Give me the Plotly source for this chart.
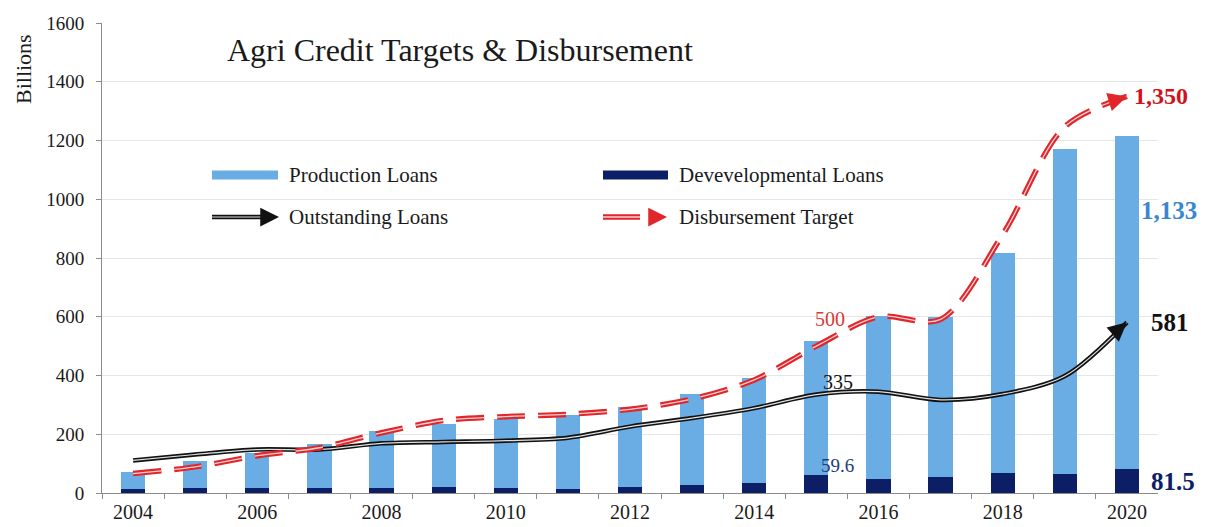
import plotly.graph_objects as go

# ---- data (billions) ----
years = list(range(2004, 2021))
production_loans = [56, 92, 119, 152, 194, 215, 233, 251, 273, 309, 358, 458, 553, 547, 749, 1109, 1133]
developmental_loans = [15, 16, 18, 16, 17, 19, 18, 14, 20, 28, 34, 59.6, 49, 53, 68, 63, 81.5]
outstanding_loans = [111, 131, 148, 148, 169, 174, 178, 188, 226, 255, 289, 335, 345, 317, 337, 398, 581]
disbursement_target = [66, 89, 127, 154, 205, 247, 260, 268, 285, 320, 385, 500, 600, 591, 880, 1247, 1350]
x_tick_years = [2004, 2006, 2008, 2010, 2012, 2014, 2016, 2018, 2020]
y_ticks = [0, 200, 400, 600, 800, 1000, 1200, 1400, 1600]

# ---- styling ----
FONT = "Liberation Serif"
LIGHT_BLUE = "#6AADE4"
NAVY = "#0B1E66"
RED = "#E0262B"
BLACK = "#111111"
W, H = 1212, 527
M_L, M_R, M_T, M_B = 102, 54, 23, 34
PLOT_W = W - M_L - M_R
PLOT_H = H - M_T - M_B


def px(x):
    return (x - M_L) / PLOT_W


def py(y):
    return (H - M_B - y) / PLOT_H


fig = go.Figure()

# stacked bars: developmental at the base, production on top
fig.add_trace(go.Bar(x=years, y=developmental_loans, width=0.39,
                     marker=dict(color=NAVY, line=dict(width=0)), name="Devevelopmental Loans"))
fig.add_trace(go.Bar(x=years, y=production_loans, width=0.39,
                     marker=dict(color=LIGHT_BLUE, line=dict(width=0)), name="Production Loans"))

# outstanding loans: double (outlined) smoothed line
fig.add_trace(go.Scatter(x=years, y=outstanding_loans, mode="lines",
                         line=dict(color=BLACK, width=4.5, shape="spline", smoothing=0.9)))
fig.add_trace(go.Scatter(x=years, y=outstanding_loans, mode="lines",
                         line=dict(color="#e0e0e0", width=1.2, shape="spline", smoothing=0.9)))

# disbursement target: dashed double smoothed line
DASH = "28px,13px"
fig.add_trace(go.Scatter(x=years, y=disbursement_target, mode="lines",
                         line=dict(color=RED, width=5.5, dash=DASH, shape="spline", smoothing=0.9)))
fig.add_trace(go.Scatter(x=years, y=disbursement_target, mode="lines",
                         line=dict(color="#f6d0d0", width=1.3, dash=DASH, shape="spline", smoothing=0.9)))

annotations = []

# arrowheads at the end of both lines
annotations.append(dict(x=years[-1], y=outstanding_loans[-1], xref="x", yref="y", text="",
                        showarrow=True, ax=-14, ay=12, arrowhead=2, arrowsize=1.5,
                        arrowwidth=2.5, arrowcolor=BLACK, standoff=0))
annotations.append(dict(x=years[-1], y=disbursement_target[-1], xref="x", yref="y", text="",
                        showarrow=True, ax=-16, ay=5, arrowhead=2, arrowsize=1.5,
                        arrowwidth=2.5, arrowcolor=RED, standoff=0))

# end-of-series value labels
annotations.append(dict(x=years[-1], y=disbursement_target[-1], xref="x", yref="y",
                        text=f"<b>{disbursement_target[-1]:,}</b>", showarrow=False,
                        xanchor="left", yanchor="middle", xshift=5,
                        font=dict(family=FONT, size=24, color="#D0121B")))
annotations.append(dict(x=years[-1], y=outstanding_loans[-1], xref="x", yref="y",
                        text=f"<b>{outstanding_loans[-1]}</b>", showarrow=False,
                        xanchor="left", yanchor="middle", xshift=22,
                        font=dict(family=FONT, size=25, color=BLACK)))
annotations.append(dict(x=years[-1], y=963, xref="x", yref="y",
                        text=f"<b>{production_loans[-1]:,}</b>", showarrow=False,
                        xanchor="left", yanchor="middle", xshift=12,
                        font=dict(family=FONT, size=25, color="#3A87CF")))
annotations.append(dict(x=years[-1], y=developmental_loans[-1] / 2, xref="x", yref="y",
                        text=f"<b>{developmental_loans[-1]}</b>", showarrow=False,
                        xanchor="left", yanchor="middle", xshift=22,
                        font=dict(family=FONT, size=25, color=NAVY)))

# 2015 value labels
i15 = years.index(2015)
annotations.append(dict(x=2015, y=outstanding_loans[i15], xref="x", yref="y",
                        text=f"{outstanding_loans[i15]}", showarrow=False,
                        xanchor="center", yanchor="bottom", xshift=22, yshift=0,
                        font=dict(family=FONT, size=20, color=BLACK)))
annotations.append(dict(x=2015, y=disbursement_target[i15], xref="x", yref="y",
                        text=f"{disbursement_target[i15]}", showarrow=False,
                        xanchor="center", yanchor="bottom", xshift=14, yshift=14,
                        font=dict(family=FONT, size=20, color="#D63A36")))
annotations.append(dict(x=2015, y=developmental_loans[i15], xref="x", yref="y",
                        text=f"{developmental_loans[i15]}", showarrow=False,
                        xanchor="center", yanchor="bottom", xshift=21, yshift=-3,
                        font=dict(family=FONT, size=19, color="#1F3A7A")))

# chart title and axis caption
annotations.append(dict(x=px(460), y=py(50), xref="paper", yref="paper",
                        text="Agri Credit Targets & Disbursement", showarrow=False,
                        xanchor="center", yanchor="middle",
                        font=dict(family=FONT, size=32, color="#1a1a1a")))
annotations.append(dict(x=px(23), y=py(69), xref="paper", yref="paper",
                        text="Billions", textangle=-90, showarrow=False,
                        xanchor="center", yanchor="middle",
                        font=dict(family=FONT, size=22, color="#1a1a1a")))

# legend (drawn in pixel-mapped paper coordinates)
shapes = []
legend_font = dict(family=FONT, size=21, color="#1a1a1a")
row1, row2 = 175, 217
col1_sym, col2_sym = 212, 603
col1_txt, col2_txt = 287, 677

shapes.append(dict(type="rect", xref="paper", yref="paper",
                   x0=px(col1_sym), x1=px(278), y0=py(row1 - 4.5), y1=py(row1 + 4.5),
                   fillcolor=LIGHT_BLUE, line=dict(width=0)))
shapes.append(dict(type="rect", xref="paper", yref="paper",
                   x0=px(col2_sym), x1=px(668), y0=py(row1 - 4.5), y1=py(row1 + 4.5),
                   fillcolor=NAVY, line=dict(width=0)))
shapes.append(dict(type="line", xref="paper", yref="paper",
                   x0=px(col1_sym), x1=px(268), y0=py(row2), y1=py(row2),
                   line=dict(color=BLACK, width=4.5)))
shapes.append(dict(type="line", xref="paper", yref="paper",
                   x0=px(col1_sym), x1=px(266), y0=py(row2), y1=py(row2),
                   line=dict(color="#e0e0e0", width=1.2)))
shapes.append(dict(type="line", xref="paper", yref="paper",
                   x0=px(col2_sym), x1=px(640), y0=py(row2), y1=py(row2),
                   line=dict(color=RED, width=5.5)))
shapes.append(dict(type="line", xref="paper", yref="paper",
                   x0=px(col2_sym), x1=px(640), y0=py(row2), y1=py(row2),
                   line=dict(color="#f6d0d0", width=1.3)))
annotations.append(dict(x=px(279), y=py(row2), xref="paper", yref="paper", text="",
                        showarrow=True, ax=-10, ay=0, arrowhead=2, arrowsize=1.5,
                        arrowwidth=2.5, arrowcolor=BLACK, standoff=0))
annotations.append(dict(x=px(667), y=py(row2), xref="paper", yref="paper", text="",
                        showarrow=True, ax=-8, ay=0, arrowhead=2, arrowsize=1.5,
                        arrowwidth=2.5, arrowcolor=RED, standoff=0))

for txt, x, y in [("Production Loans", col1_txt, row1),
                  ("Devevelopmental Loans", col2_txt, row1),
                  ("Outstanding Loans", col1_txt, row2),
                  ("Disbursement Target", col2_txt, row2)]:
    annotations.append(dict(x=px(x), y=py(y), xref="paper", yref="paper", text=txt,
                            showarrow=False, xanchor="left", yanchor="middle",
                            font=legend_font))

fig.update_layout(
    width=W, height=H, autosize=False,
    margin=dict(l=M_L, r=M_R, t=M_T, b=M_B, pad=0),
    paper_bgcolor="white", plot_bgcolor="white",
    barmode="stack", showlegend=False,
    font=dict(family=FONT, color="#1a1a1a"),
    annotations=annotations, shapes=shapes,
    xaxis=dict(
        range=[2003.5, 2020.5], tickmode="array", tickvals=x_tick_years,
        ticktext=[str(y) for y in x_tick_years], ticks="", ticklabelstandoff=1,
        tickfont=dict(family=FONT, size=20, color="#1a1a1a"), automargin=False,
        showline=True, linecolor="#8c8c8c", linewidth=1, showgrid=False, zeroline=False,
        minor=dict(tickmode="array", tickvals=[y + 0.5 for y in years[:-1]] + [2003.5],
                   ticks="outside", ticklen=5, tickcolor="#8c8c8c", showgrid=False),
    ),
    yaxis=dict(
        range=[0, 1600], tickmode="array", tickvals=y_ticks, automargin=False,
        ticks="outside", ticklen=5, tickcolor="#8c8c8c", ticklabelstandoff=8,
        tickfont=dict(family=FONT, size=19, color="#1a1a1a"),
        showline=True, linecolor="#8c8c8c", linewidth=1,
        showgrid=True, gridcolor="#e6e6e6", gridwidth=1, zeroline=False,
    ),
)

fig.write_html("out.html")
